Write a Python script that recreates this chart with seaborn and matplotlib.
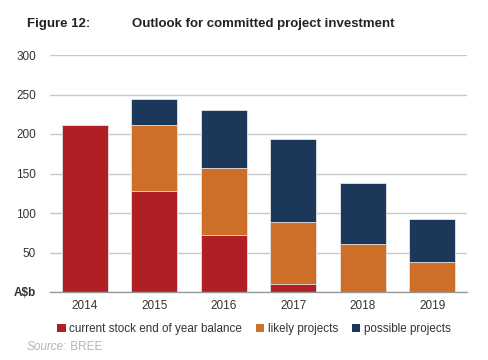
import matplotlib
matplotlib.use("Agg")
from matplotlib import pyplot as plt
from matplotlib.patches import Patch
import numpy as np
import pandas as pd
import seaborn as sns

# Donnees (A$ milliards)
years = ["2014", "2015", "2016", "2017", "2018", "2019"]
current_stock = [212, 128, 72, 10, 0, 0]
likely = [0, 83, 85, 78, 61, 38]
possible = [0, 33, 74, 106, 77, 55]
series_names = ["current stock end of year balance", "likely projects", "possible projects"]
colors = ["#B01F24", "#CD6E29", "#1B375A"]

sns.set_style("white")
plt.rcParams["font.family"] = ["Liberation Sans", "DejaVu Sans"]

df = pd.DataFrame({"year": years, "current": current_stock, "likely": likely, "possible": possible})
# cumul pour empiler les barres (seaborn ne sait pas empiler)
df["lvl1"] = df["current"]
df["lvl2"] = df["current"] + df["likely"]
df["lvl3"] = df["lvl2"] + df["possible"]

fig = plt.figure(figsize=(4.89, 3.60), dpi=100)
ax = fig.add_axes([50 / 489, 1 - 292 / 360, 417 / 489, 237 / 360])

for col, c in zip(["lvl3", "lvl2", "lvl1"], colors[::-1]):
    sns.barplot(data=df, x="year", y=col, color=c, width=0.66, ax=ax,
                edgecolor="#E6E6E6", linewidth=0.6, saturation=1)

ax.set_ylim(0, 300)
ax.set_xlim(-0.5, 5.5)
ax.set_yticks(np.arange(0, 301, 50))
ax.set_yticklabels(["A$b"] + [str(v) for v in range(50, 301, 50)])
ax.get_yticklabels()[0].set_fontweight("bold")
ax.tick_params(axis="y", length=0, pad=10, labelsize=8.5, labelcolor="#333333")
ax.yaxis.grid(True, color="#C8C8C8", linewidth=1)
ax.set_axisbelow(True)

# petits traits entre les categories
ax.set_xticks(np.arange(-0.5, 6, 1), minor=True)
ax.tick_params(axis="x", which="major", length=0, pad=6, labelsize=8.5, labelcolor="#333333")
ax.tick_params(axis="x", which="minor", length=4, color="#999999", width=1, direction="out")

for s in ["left", "top", "right"]:
    ax.spines[s].set_visible(False)
ax.spines["bottom"].set_color("#999999")
ax.spines["bottom"].set_linewidth(1)
ax.set_xlabel("")
ax.set_ylabel("")

fig.text(27 / 489, 1 - 24 / 360, "Figure 12:", fontsize=9.5, fontweight="bold", color="#222222", va="center")
fig.text(132 / 489, 1 - 24 / 360, "Outlook for committed project investment", fontsize=9.5,
         fontweight="bold", color="#222222", va="center")

handles = [Patch(facecolor=c, edgecolor="none") for c in colors]
fig.legend(handles, series_names, loc="center", bbox_to_anchor=(254 / 489, 1 - 329 / 360), ncol=3,
           frameon=False, fontsize=8.4, handlelength=0.7, handleheight=0.7, handletextpad=0.3,
           columnspacing=1.2, labelcolor="#333333")

t_src = fig.text(27 / 489, 1 - 349.5 / 360, "Source:", fontsize=8.5, style="italic", color="#B4B4B4",
                 va="baseline")
ax.annotate(" BREE", xy=(1, 0), xycoords=t_src, fontsize=8.5, color="#B4B4B4",
            va="bottom", ha="left", annotation_clip=False)

plt.savefig("out.png", dpi=100)
